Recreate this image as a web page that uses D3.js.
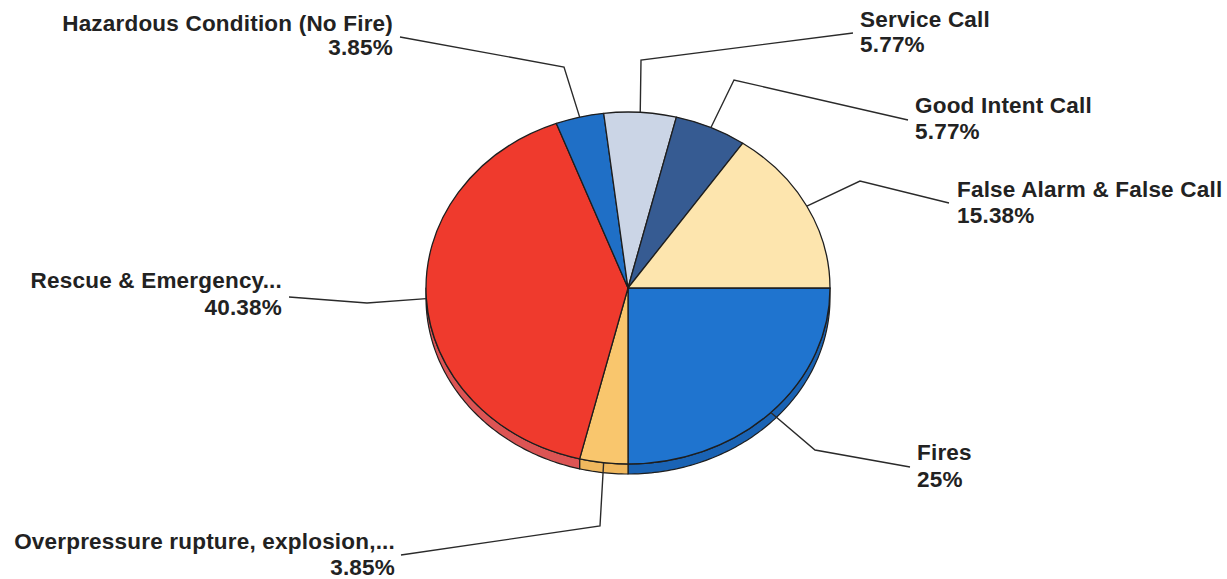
<!DOCTYPE html>
<html>
<head>
<meta charset="utf-8">
<script src="https://cdn.jsdelivr.net/npm/d3@7"></script>
<style>
  body { margin: 0; background: #ffffff; }
  svg { display: block; }
  .lbl { font-family: "Liberation Sans", Arial, sans-serif; font-weight: bold; font-size: 22.5px; letter-spacing: 0.2px; fill: #222; }
</style>
</head>
<body>
<svg id="chart" width="1227" height="579"></svg>
<script>
// Incident types and their share of calls (%)
const categories = [
  "Fires",
  "Overpressure rupture, explosion,...",
  "Rescue & Emergency...",
  "Hazardous Condition (No Fire)",
  "Service Call",
  "Good Intent Call",
  "False Alarm & False Call"
];
const percents = [25, 3.85, 40.38, 3.85, 5.77, 5.77, 15.38];
const percentLabels = ["25%", "3.85%", "40.38%", "3.85%", "5.77%", "5.77%", "15.38%"];

const topColors  = ["#1f74cf", "#f9c66d", "#ef3a2d", "#1f6fc6", "#cbd5e6", "#365b92", "#fde5ae"];
const sideColors = ["#1a63b4", "#f0b85e", "#dc5454", "#1a5fae", "#b5c0d2", "#2d4d7c", "#ecd39c"];

// Label placement: bend point of the leader, where it meets the text, and the text anchor
const labelLayout = [
  { elbow: [815, 450], end: [910, 467], tx: 917, ty: 460, anchor: "start", gap: 27 },
  { elbow: [600, 526], end: [401, 555], tx: 395, ty: 549, anchor: "end",   gap: 26 },
  { elbow: [367, 303], end: [289, 297], tx: 282, ty: 288, anchor: "end",   gap: 27 },
  { elbow: [564, 67],  end: [400, 37],  tx: 393, ty: 31,  anchor: "end",   gap: 24 },
  { elbow: [641, 60],  end: [853, 33],  tx: 860, ty: 27,  anchor: "start", gap: 25 },
  { elbow: [734, 80],  end: [908, 120], tx: 915, ty: 113, anchor: "start", gap: 26 },
  { elbow: [860, 181], end: [949, 203], tx: 957, ty: 197, anchor: "start", gap: 26 }
];

const cx = 628, cy = 288, rx = 202, ry = 176, depth = 10;

const svg = d3.select("#chart");

const pie = d3.pie().sort(null).value(d => d)
  .startAngle(Math.PI / 2).endAngle(Math.PI / 2 + 2 * Math.PI);
const arcs = pie(percents);

// point on the ellipse rim for an angle measured clockwise from 12 o'clock
const rim = (a, dy = 0) => [cx + rx * Math.sin(a), cy - ry * Math.cos(a) + dy];

// side walls: only the front (lower) half of the disc shows its thickness
const sideG = svg.append("g");
arcs.forEach((d, i) => {
  const a0 = Math.max(d.startAngle, Math.PI / 2);
  const a1 = Math.min(d.endAngle, 3 * Math.PI / 2);
  if (a1 <= a0) return;
  const n = Math.max(4, Math.ceil((a1 - a0) * 60));
  const angles = d3.range(n + 1).map(k => a0 + (a1 - a0) * k / n);
  const pts = angles.map(a => rim(a)).concat(angles.slice().reverse().map(a => rim(a, depth)));
  sideG.append("path")
    .attr("d", d3.line()(pts) + "Z")
    .attr("fill", sideColors[i])
    .attr("stroke", "#1e1e1e")
    .attr("stroke-width", 1.2)
    .attr("stroke-linejoin", "round");
});

// top face: circular arcs squashed into an ellipse
const arcGen = d3.arc().innerRadius(0).outerRadius(rx);
svg.append("g")
  .attr("transform", `translate(${cx},${cy}) scale(1,${ry / rx})`)
  .selectAll("path")
  .data(arcs)
  .join("path")
  .attr("d", arcGen)
  .attr("fill", (d, i) => topColors[i])
  .attr("stroke", "#1e1e1e")
  .attr("stroke-width", 1.3)
  .attr("stroke-linejoin", "round")
  .attr("vector-effect", "non-scaling-stroke");

// leader lines from each slice's mid-angle on the rim
const leaderG = svg.append("g");
arcs.forEach((d, i) => {
  const mid = (d.startAngle + d.endAngle) / 2;
  const L = labelLayout[i];
  leaderG.append("path")
    .attr("d", d3.line()([rim(mid), L.elbow, L.end]))
    .attr("fill", "none")
    .attr("stroke", "#2a2a2a")
    .attr("stroke-width", 1.4);
});

// two-line labels: category name and percentage
const labelG = svg.append("g");
categories.forEach((c, i) => {
  const L = labelLayout[i];
  const t = labelG.append("text")
    .attr("class", "lbl")
    .attr("text-anchor", L.anchor);
  t.append("tspan").attr("x", L.tx).attr("y", L.ty).text(c);
  t.append("tspan").attr("x", L.tx).attr("y", L.ty + L.gap).text(percentLabels[i]);
});
</script>
</body>
</html>
